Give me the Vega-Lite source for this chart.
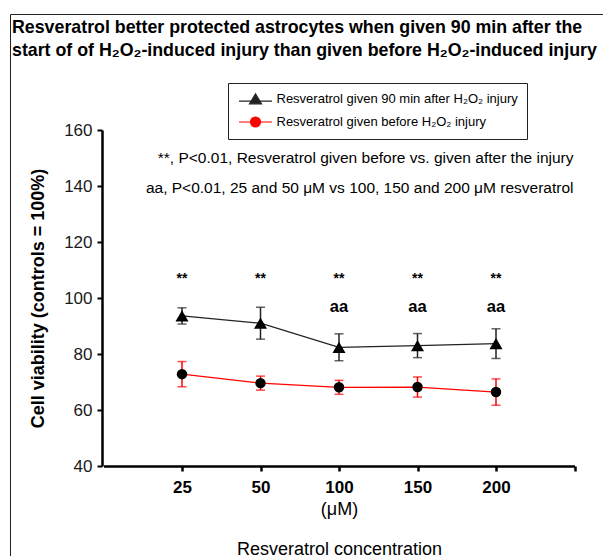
{
  "$schema": "https://vega.github.io/schema/vega-lite/v6.json",
  "width": 593,
  "height": 542,
  "autosize": "none",
  "padding": {"left": 10, "top": 14, "right": 0, "bottom": 0},
  "background": "white",
  "config": {
    "view": {"stroke": "#222", "strokeWidth": 1},
    "font": "Liberation Sans"
  },
  "title": {
    "text": ["Resveratrol better protected astrocytes when given 90 min after the", "start of of H₂O₂-induced injury than given before H₂O₂-induced injury"],
    "anchor": "start",
    "frame": "group",
    "orient": "top",
    "offset": -46,
    "fontSize": 17.8,
    "fontWeight": "bold",
    "lineHeight": 23,
    "color": "black",
    "dx": 2
  },
  "datasets": {
    "viability": [
      {"conc": "25", "series": "after", "mean": 93.6, "sem": 2.9},
      {"conc": "50", "series": "after", "mean": 91.0, "sem": 5.7},
      {"conc": "100", "series": "after", "mean": 82.4, "sem": 4.8},
      {"conc": "150", "series": "after", "mean": 83.0, "sem": 4.3},
      {"conc": "200", "series": "after", "mean": 83.7, "sem": 5.3},
      {"conc": "25", "series": "before", "mean": 72.8, "sem": 4.5},
      {"conc": "50", "series": "before", "mean": 69.6, "sem": 2.5},
      {"conc": "100", "series": "before", "mean": 68.1, "sem": 2.5},
      {"conc": "150", "series": "before", "mean": 68.2, "sem": 3.6},
      {"conc": "200", "series": "before", "mean": 66.4, "sem": 4.7}
    ],
    "stars": [
      {"conc": "25", "label": "**", "y": 105.4},
      {"conc": "50", "label": "**", "y": 105.4},
      {"conc": "100", "label": "**", "y": 105.4},
      {"conc": "150", "label": "**", "y": 105.4},
      {"conc": "200", "label": "**", "y": 105.4}
    ],
    "aas": [
      {"conc": "100", "label": "aa", "y": 95},
      {"conc": "150", "label": "aa", "y": 95},
      {"conc": "200", "label": "aa", "y": 95}
    ],
    "notes": [
      {"conc": "end", "text": "**, P<0.01, Resveratrol given before vs. given after the injury", "y": 150},
      {"conc": "end", "text": "aa, P<0.01, 25 and 50 μM vs 100, 150 and 200 μM resveratrol", "y": 139.3}
    ]
  },
  "layer": [
    {
      "data": {"name": "viability"},
      "mark": {"type": "line", "strokeWidth": 1.2},
      "encoding": {
        "x": {
          "field": "conc", "type": "nominal",
          "scale": {"type": "point", "domain": ["0", "25", "50", "100", "150", "200", "end"], "range": [93.5, 564.5], "padding": 0},
          "axis": {
            "values": ["25", "50", "100", "150", "200", "end"],
            "labelExpr": "datum.value == 'end' ? '' : datum.value",
            "orient": "bottom",
            "offset": -90,
            "labelFontSize": 17,
            "labelFontWeight": "bold",
            "labelColor": "black",
            "labelPadding": 8,
            "labelAngle": 0,
            "labelAlign": "center",
            "labelBaseline": "top",
            "labelOffset": 0,
            "tickSize": 5,
            "tickWidth": 2.5,
            "tickColor": "black",
            "domainWidth": 2.5,
            "domainColor": "black",
            "grid": false,
            "title": ["(μM)", "Resveratrol concentration"],
            "titleFontSize": 18,
            "titleFontWeight": "normal",
            "titleColor": "black",
            "titleLineHeight": 40,
            "titlePadding": 5
          }
        },
        "y": {
          "field": "mean", "type": "quantitative",
          "title": "Cell viability (controls = 100%)",
          "scale": {"domain": [40, 160], "range": [452, 116], "nice": false, "zero": false},
          "axis": {
            "values": [40, 60, 80, 100, 120, 140, 160],
            "orient": "left",
            "offset": -92,
            "labelFontSize": 17,
            "labelColor": "#1a1a1a",
            "labelPadding": 5,
            "tickSize": 5,
            "tickWidth": 2,
            "tickColor": "black",
            "domainWidth": 2.5,
            "domainColor": "black",
            "grid": false,
            "titleFontSize": 18,
            "titleFontWeight": "bold",
            "titleColor": "black",
            "titlePadding": 16
          }
        },
        "color": {
          "field": "series", "type": "nominal",
          "scale": {"domain": ["after", "before"], "range": ["#222222", "#ff0000"]},
          "legend": {
            "orient": "none",
            "legendX": 218,
            "legendY": 69,
            "title": null,
            "labelExpr": "datum.value == 'after' ? 'Resveratrol given 90 min after H₂O₂ injury' : 'Resveratrol given before H₂O₂ injury'",
            "labelFontSize": 13,
            "labelColor": "black",
            "labelLimit": 400,
            "symbolSize": 144,
            "symbolOffset": 11.5,
            "labelOffset": 14,
            "padding": 9,
            "rowPadding": 7,
            "strokeColor": "#222",
            "fillColor": "white",
            "cornerRadius": 0,
            "encode": {
              "symbols": {
                "update": {
                  "shape": {"signal": "datum.value == 'after' ? 'M-2.75,0.35H2.75M0,-0.85L1,0.8L-1,0.8Z' : 'M-2.75,0H2.75M-0.83,0A0.83,0.83,0,1,0,0.83,0A0.83,0.83,0,1,0,-0.83,0Z'"},
                  "fill": {"value": "black"},
                  "strokeWidth": {"value": 1.2},
                  "opacity": {"value": 1}
                }
              }
            }
          }
        }
      }
    },
    {
      "data": {"name": "viability"},
      "mark": {"type": "errorbar", "ticks": {"size": 9, "thickness": 1.5}, "thickness": 1.5},
      "encoding": {
        "x": {"field": "conc", "type": "nominal"},
        "y": {"field": "mean", "type": "quantitative", "title": "Cell viability (controls = 100%)"},
        "yError": {"field": "sem"},
        "color": {"field": "series", "type": "nominal"}
      }
    },
    {
      "data": {"name": "viability"},
      "transform": [{"filter": "datum.series == 'after'"}],
      "mark": {"type": "point", "filled": true, "opacity": 1, "color": "black", "shape": "triangle-up", "size": 170},
      "encoding": {
        "x": {"field": "conc", "type": "nominal"},
        "y": {"field": "mean", "type": "quantitative", "title": "Cell viability (controls = 100%)"}
      }
    },
    {
      "data": {"name": "viability"},
      "transform": [{"filter": "datum.series == 'before'"}],
      "mark": {"type": "point", "filled": true, "opacity": 1, "color": "black", "shape": "circle", "size": 110},
      "encoding": {
        "x": {"field": "conc", "type": "nominal"},
        "y": {"field": "mean", "type": "quantitative", "title": "Cell viability (controls = 100%)"}
      }
    },
    {
      "data": {"name": "stars"},
      "mark": {"type": "text", "fontWeight": "bold", "fontSize": 14, "baseline": "alphabetic", "align": "center", "color": "black"},
      "encoding": {
        "x": {"field": "conc", "type": "nominal"},
        "y": {"field": "y", "type": "quantitative", "title": "Cell viability (controls = 100%)"},
        "text": {"field": "label"}
      }
    },
    {
      "data": {"name": "aas"},
      "mark": {"type": "text", "fontWeight": "bold", "fontSize": 16.5, "baseline": "alphabetic", "align": "center", "color": "black"},
      "encoding": {
        "x": {"field": "conc", "type": "nominal"},
        "y": {"field": "y", "type": "quantitative", "title": "Cell viability (controls = 100%)"},
        "text": {"field": "label"}
      }
    },
    {
      "data": {"name": "notes"},
      "mark": {"type": "text", "fontSize": 15.5, "baseline": "middle", "align": "right", "color": "black", "dx": -1},
      "encoding": {
        "x": {"field": "conc", "type": "nominal"},
        "y": {"field": "y", "type": "quantitative", "title": "Cell viability (controls = 100%)"},
        "text": {"field": "text"}
      }
    }
  ]
}
